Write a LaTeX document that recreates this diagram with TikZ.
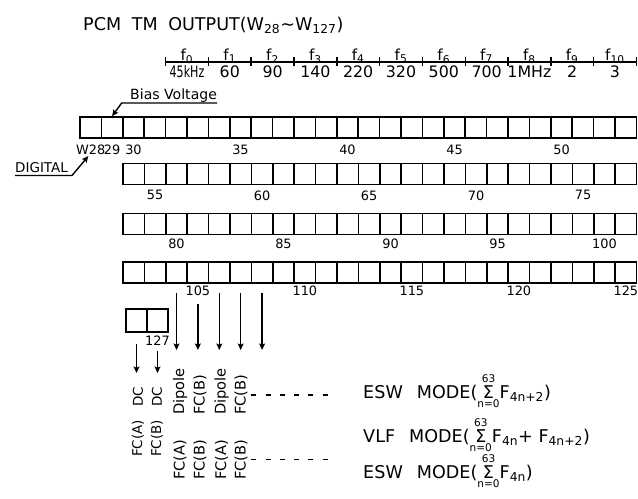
\documentclass[tikz,border=0pt]{standalone}
\usepackage{fontspec}
\setmainfont{DejaVu Sans}
\usepackage{graphicx}
\usetikzlibrary{positioning,arrows.meta}

\newcommand\sumlim{\ensuremath{\mathop{\mbox{Σ}}\limits_{\mbox{\fontsize{9}{9}\selectfont n=0}}^{\mbox{\fontsize{9}{9}\selectfont 63}}}}

\begin{document}
\begin{tikzpicture}[
  x=0.03cm, y=-0.03cm,
  cell/.style={
    draw, line width=1.4pt, inner sep=0pt,
    minimum width=0.642cm, minimum height=0.63cm,
  },
  num/.style={font=\fontsize{11}{12}\selectfont, inner sep=1pt},
  flab/.style={font=\fontsize{13}{14}\selectfont, anchor=base, inner sep=0pt},
  fval/.style={font=\fontsize{13.5}{14}\selectfont, anchor=base, inner sep=0pt},
  vtext/.style={rotate=90, anchor=west, inner sep=0pt},
  mode/.style={font=\fontsize{15}{16}\selectfont, anchor=base west, inner sep=0pt},
  rule/.style={line width=1.2pt},
  arr/.style={line width=1.2pt, -{Stealth[length=5.5pt, width=5pt, inset=1pt]}},
  leader/.style={line width=1.2pt, dash pattern=on 4.3pt off 7.9pt},
]

\useasboundingbox (0,0) rectangle (638,498);

\def\cw{21.4}
\def\tk{42.8}

% ── title ────────────────────────────────────────────────
\node[font=\fontsize{15}{16}\selectfont, anchor=base west, inner sep=0pt] (title) at (83,30)
  {PCM\hspace{.6em}TM\hspace{.6em}OUTPUT(W\textsubscript{28}\textasciitilde W\textsubscript{127})};

% ── frequency scale ──────────────────────────────────────
\draw[rule] (165.6,62) -- (636.4,62);
\foreach \k in {0,...,11}
  \draw[rule] ({165.6+\k*\tk},57) -- ({165.6+\k*\tk},66);
\foreach \k/\v in {0/{\scalebox{.7}[1]{45kHz}}, 1/60, 2/90, 3/140, 4/220, 5/320,
                   6/500, 7/700, 8/1MHz, 9/2, 10/3} {
  \node[flab] (f\k) at ({165.6+(\k+.5)*\tk},60) {f\textsubscript{\k}};
  \node[fval] (v\k) at ({165.6+(\k+.5)*\tk},77) {\v};
}

% ── word rows W28 ... W127 ───────────────────────────────
\foreach \i in {28,...,53}
  \node[cell] (w\i) at ({80+(\i-27.5)*\cw}, 127.5) {};
\foreach \i in {54,...,77}
  \node[cell] (w\i) at ({123+(\i-53.5)*\cw}, 174) {};
\foreach \i in {78,...,101}
  \node[cell] (w\i) at ({123+(\i-77.5)*\cw}, 224) {};
\foreach \i in {102,...,125}
  \node[cell] (w\i) at ({123+(\i-101.5)*\cw}, 272.5) {};
\foreach \i in {126,127}
  \node[cell, minimum width=0.63cm, minimum height=0.69cm] (w\i) at ({126+(\i-125.5)*21}, 320.5) {};

% ── word numbers ─────────────────────────────────────────
\foreach \i/\t in {28/W28, 29/29, 30/30, 35/35, 40/40, 45/45, 50/50}
  \node[num, below=4pt of w\i] (l\i) {\t};
\foreach \i in {55,60,...,75}
  \node[num, below=3.3pt of w\i] (l\i) {\i};
\foreach \i in {80,85,...,100}
  \node[num, below=1.6pt of w\i] (l\i) {\i};
\foreach \i in {105,110,...,125}
  \node[num, below=0.7pt of w\i] (l\i) {\i};
\node[num, below=1.6pt of w127] (l127) {127};

% ── Bias Voltage / DIGITAL pointers ──────────────────────
\node[font=\fontsize{12}{14}\selectfont, anchor=base west, inner sep=0pt] (bias) at (130,99) {Bias Voltage};
\coordinate (biasul) at (121.7,103);
\draw[arr] (bias.east |- biasul) -- (biasul) -- (w29.north);

\node[font=\fontsize{11.5}{13}\selectfont, anchor=base west, inner sep=0pt] (digital) at (15,172.5) {DIGITAL};
\coordinate (digul) at (15,175.5);
\coordinate (digend) at (72,175.5);
\draw[arr] (digul) -- (digend) -- ([xshift=-2pt]l28.south);

% ── word arrows ──────────────────────────────────────────
\coordinate (tipA) at (0,350);
\coordinate (tipB) at (0,373);
\foreach \i in {104,106,107,108}
  \draw[arr] ([yshift=-7.7pt]w\i.south) -- (w\i.south |- tipA);
\draw[arr] ([yshift=-17pt]w105.south) -- (w105.south |- tipA);
\draw[arr] ([yshift=-9.4pt]w126.south) -- (w126.south |- tipB);
\draw[arr] ([yshift=-15.4pt]w127.south) -- (w127.south |- tipB);

% ── channel names ────────────────────────────────────────
\node[vtext, font=\fontsize{11.5}{13}\selectfont] (c1l) at (138,457) {FC(A)};
\node[vtext, font=\fontsize{11.5}{13}\selectfont] (c1u) at (138,407) {DC};
\node[vtext, font=\fontsize{11.5}{13}\selectfont] (c2l) at (157,457) {FC(B)};
\node[vtext, font=\fontsize{11.5}{13}\selectfont] (c2u) at (157,407) {DC};
\node[vtext, font=\fontsize{12.5}{14}\selectfont] (c3l) at (180,480) {FC(A)};
\node[vtext, font=\fontsize{12.5}{14}\selectfont] (c3u) at (180,415) {Dipole};
\node[vtext, font=\fontsize{12.5}{14}\selectfont] (c4l) at (200,480) {FC(B)};
\node[vtext, font=\fontsize{12.5}{14}\selectfont] (c4u) at (200,415) {FC(B)};
\node[vtext, font=\fontsize{12.5}{14}\selectfont] (c5l) at (221.5,480) {FC(A)};
\node[vtext, font=\fontsize{12.5}{14}\selectfont] (c5u) at (221.5,415) {Dipole};
\node[vtext, font=\fontsize{12.5}{14}\selectfont] (c6l) at (241,480) {FC(B)};
\node[vtext, font=\fontsize{12.5}{14}\selectfont] (c6u) at (241,415) {FC(B)};

% ── modes ────────────────────────────────────────────────
\node[mode] (esw1) at (363,398) {ESW\hspace{.8em}MODE(\sumlim F\textsubscript{4n+2})};
\node[mode] (vlf)  at (363,442) {VLF\hspace{.8em}MODE(\sumlim F\textsubscript{4n}+ F\textsubscript{4n+2})};
\node[mode] (esw2) at (363,478) {ESW\hspace{.8em}MODE(\sumlim F\textsubscript{4n})};

\coordinate (dashup) at (c6u.south |- esw1.mid);
\draw[leader] ([xshift=3pt]dashup) -- ++(79,0);
\draw[leader] ([xshift=3pt]c6l.south) -- ++(79,0);

\end{tikzpicture}
\end{document}
